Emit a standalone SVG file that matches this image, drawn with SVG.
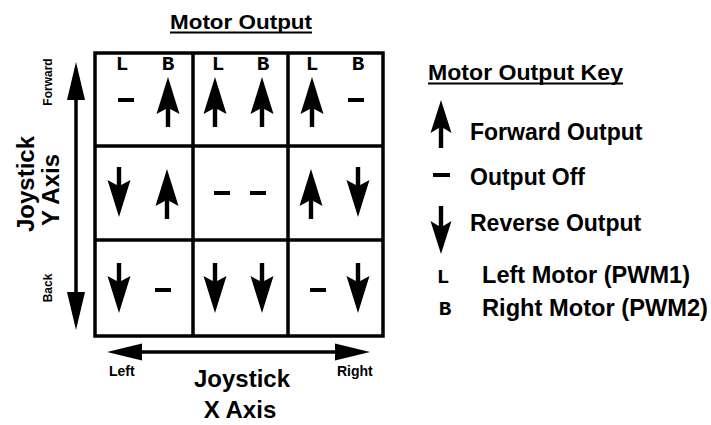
<svg xmlns="http://www.w3.org/2000/svg" width="711" height="425" viewBox="0 0 711 425">
<style>
.t{font-family:"Liberation Sans",Arial,sans-serif;font-weight:bold;fill:#000}
.lr{font-family:"Liberation Mono","Courier New",monospace;font-weight:bold;font-size:21px;fill:#000;text-anchor:middle}
.grid{fill:none;stroke:#000;stroke-width:3.5}
.ul{stroke:#000;stroke-width:2}
.ax{stroke:#000;stroke-width:3.5}
</style>
<defs>
<path id="up" d="M0,0 L11.5,37 L2.2,32 L2.2,50 L-2.2,50 L-2.2,32 L-11.5,37 Z" fill="#000"/>
<path id="down" d="M0,50 L11.5,13 L2.2,18 L2.2,0 L-2.2,0 L-2.2,18 L-11.5,13 Z" fill="#000"/>
<path id="kup" d="M0,0 L10.5,33 L2.2,28 L2.2,48 L-2.2,48 L-2.2,28 L-10.5,33 Z" fill="#000"/>
<path id="kdown" d="M0,48 L10.5,15 L2.2,20 L2.2,0 L-2.2,0 L-2.2,20 L-10.5,15 Z" fill="#000"/>
<rect id="dash" x="-8" y="-2" width="16" height="4" fill="#000"/>
</defs>
<rect width="711" height="425" fill="#fff"/>

<g id="title">
<text class="t" x="241" y="29" font-size="21" text-anchor="middle" textLength="142" lengthAdjust="spacingAndGlyphs">Motor Output</text>
<line class="ul" x1="170" y1="32.5" x2="312" y2="32.5"/>
</g>

<g id="grid">
<rect class="grid" x="95" y="53" width="288" height="283"/>
<line class="grid" x1="193" y1="53" x2="193" y2="336"/>
<line class="grid" x1="288" y1="53" x2="288" y2="336"/>
<line class="grid" x1="95" y1="146" x2="383" y2="146"/>
<line class="grid" x1="95" y1="240" x2="383" y2="240"/>
</g>

<g id="column-labels">
<text class="lr" x="122" y="70">L</text>
<text class="lr" x="168" y="70">B</text>
<text class="lr" x="218" y="70">L</text>
<text class="lr" x="263" y="70">B</text>
<text class="lr" x="312" y="70">L</text>
<text class="lr" x="358" y="70">B</text>
</g>

<g id="row-forward">
<use href="#dash" x="126" y="100"/>
<use href="#up" x="168" y="77"/>
<use href="#up" x="215" y="77"/>
<use href="#up" x="262" y="77"/>
<use href="#up" x="312" y="77"/>
<use href="#dash" x="356" y="100"/>
</g>

<g id="row-center">
<use href="#down" x="119" y="167"/>
<use href="#up" x="167" y="169"/>
<use href="#dash" x="222" y="193"/>
<use href="#dash" x="258" y="193"/>
<use href="#up" x="311" y="169"/>
<use href="#down" x="358" y="167"/>
</g>

<g id="row-back">
<use href="#down" x="119" y="263"/>
<use href="#dash" x="163" y="290"/>
<use href="#down" x="215" y="263"/>
<use href="#down" x="262" y="263"/>
<use href="#dash" x="318" y="290"/>
<use href="#down" x="358" y="263"/>
</g>

<g id="connectors">
<line class="ax" x1="76" y1="95" x2="76" y2="295"/>
<path d="M76,62 L85,100 L67,100 Z" fill="#000"/>
<path d="M76,330 L85,292 L67,292 Z" fill="#000"/>
<line class="ax" x1="138" y1="352" x2="340" y2="352"/>
<path d="M107,352 L142,343.5 L142,360.5 Z" fill="#000"/>
<path d="M370,352 L335,343.5 L335,360.5 Z" fill="#000"/>
</g>

<g id="y-axis-labels">
<text class="t" font-size="12" text-anchor="middle" transform="translate(52,82) rotate(-90)">Forward</text>
<text class="t" font-size="12" text-anchor="middle" transform="translate(52,288) rotate(-90)">Back</text>
<text class="t" font-size="24" text-anchor="middle" transform="translate(34,184) rotate(-90)">Joystick</text>
<text class="t" font-size="24" text-anchor="middle" transform="translate(59,190) rotate(-90)">Y Axis</text>
</g>

<g id="x-axis-labels">
<text class="t" font-size="14" x="109" y="376">Left</text>
<text class="t" font-size="14" x="337" y="376">Right</text>
<text class="t" font-size="24" x="242" y="387" text-anchor="middle">Joystick</text>
<text class="t" font-size="24" x="240" y="418" text-anchor="middle">X Axis</text>
</g>

<g id="key">
<text class="t" x="428" y="80" font-size="22" textLength="195" lengthAdjust="spacingAndGlyphs">Motor Output Key</text>
<line class="ul" x1="428" y1="83.5" x2="623" y2="83.5"/>
<use href="#kup" x="441" y="100"/>
<text class="t" x="470" y="140" font-size="23">Forward Output</text>
<rect x="433" y="173" width="17" height="4" fill="#000"/>
<text class="t" x="470" y="185" font-size="23">Output Off</text>
<use href="#kdown" x="441" y="206"/>
<text class="t" x="470" y="231" font-size="23">Reverse Output</text>
<text class="lr" x="443" y="283">L</text>
<text class="t" x="482" y="283" font-size="23" textLength="208" lengthAdjust="spacingAndGlyphs">Left Motor (PWM1)</text>
<text class="lr" x="445" y="315">B</text>
<text class="t" x="482" y="316" font-size="23" textLength="226" lengthAdjust="spacingAndGlyphs">Right Motor (PWM2)</text>
</g>
</svg>
